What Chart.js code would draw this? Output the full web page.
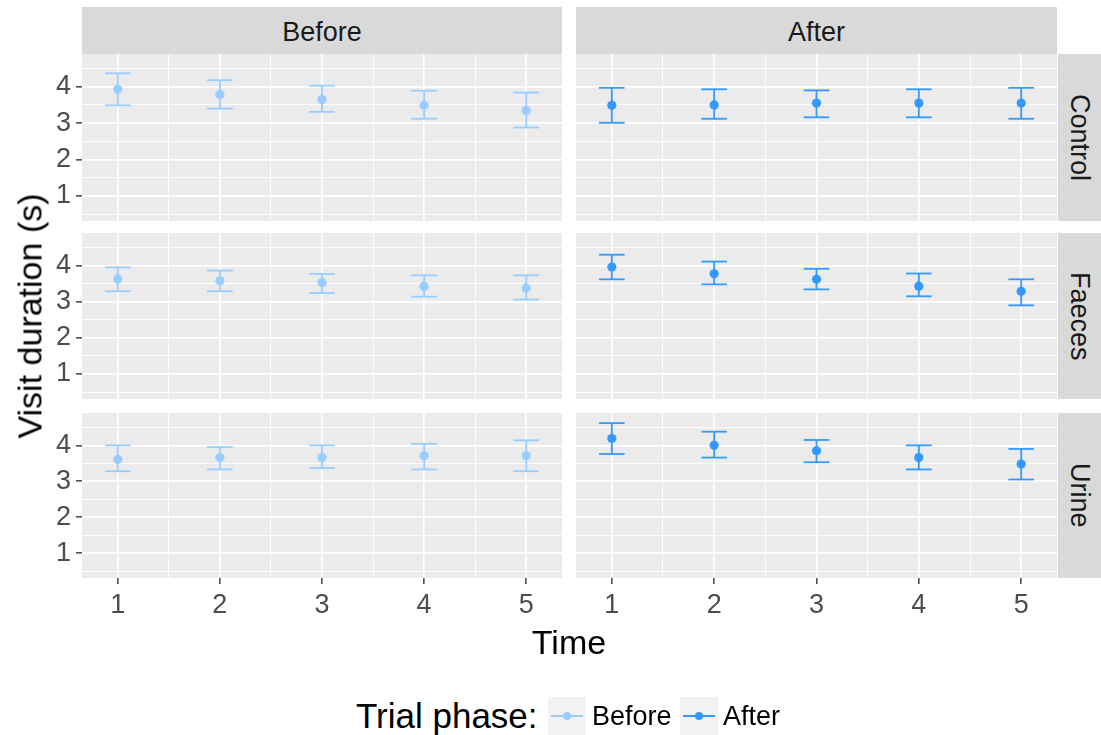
<!DOCTYPE html>
<html>
<head>
<meta charset="utf-8">
<title>Visit duration by time and trial phase</title>
<script src="https://cdn.jsdelivr.net/npm/chart.js@4.4.1/dist/chart.umd.min.js"></script>
<style>
  body { margin: 0; background: #fff; font-family: "Liberation Sans", Arial, sans-serif; }
  #plot { position: relative; width: 1101px; height: 735px; overflow: hidden; }
  #plot canvas { position: absolute; }
  .strip { position: absolute; background: #D9D9D9; color: #1A1A1A; font-size: 27px;
           display: flex; align-items: center; justify-content: center; box-sizing: border-box; }
  .strip.top { padding-top: 4px; }
  .strip.side span { writing-mode: vertical-rl; }
  .title { position: absolute; color: #000; font-size: 34px; white-space: nowrap;
           transform: translate(-50%, -50%); }
  .legend-item { position: absolute; white-space: nowrap; transform: translateY(-50%); }
  .key { position: absolute; width: 38px; height: 38px; background: #F2F2F2; }
  .key .ln { position: absolute; left: 3px; right: 3px; top: 18px; height: 1.6px; }
  .key .dot { position: absolute; left: 15px; top: 15px; width: 8px; height: 8px; border-radius: 50%; }
</style>
</head>
<body>
<div id="plot"></div>
<script>
// time points and facets
const TIMES = [1, 2, 3, 4, 5];
const PHASES = ['Before', 'After'];
const TREATMENTS = ['Control', 'Faeces', 'Urine'];

// [lower, mean, upper] per time point
const CONTROL_BEFORE = [[3.49, 3.93, 4.37], [3.40, 3.79, 4.18], [3.31, 3.65, 4.03], [3.12, 3.49, 3.89], [2.88, 3.35, 3.84]];
const CONTROL_AFTER  = [[3.01, 3.49, 3.97], [3.12, 3.50, 3.93], [3.16, 3.55, 3.90], [3.16, 3.55, 3.93], [3.12, 3.55, 3.97]];
const FAECES_BEFORE  = [[3.29, 3.63, 3.95], [3.29, 3.58, 3.86], [3.24, 3.53, 3.77], [3.14, 3.43, 3.73], [3.06, 3.38, 3.73]];
const FAECES_AFTER   = [[3.62, 3.96, 4.30], [3.48, 3.77, 4.11], [3.34, 3.62, 3.91], [3.15, 3.43, 3.78], [2.90, 3.29, 3.62]];
const URINE_BEFORE   = [[3.28, 3.61, 4.00], [3.33, 3.66, 3.95], [3.37, 3.66, 4.00], [3.33, 3.71, 4.04], [3.28, 3.71, 4.14]];
const URINE_AFTER    = [[3.76, 4.19, 4.62], [3.66, 4.00, 4.38], [3.53, 3.85, 4.15], [3.33, 3.66, 4.00], [3.05, 3.48, 3.90]];

const PANELS = [
    [CONTROL_BEFORE, CONTROL_AFTER],
    [FAECES_BEFORE, FAECES_AFTER],
    [URINE_BEFORE, URINE_AFTER]
];

// grid lines: integers are major, halves are minor
const X_GRID = [1, 1.5, 2, 2.5, 3, 3.5, 4, 4.5, 5];
const Y_GRID = [0.5, 1, 1.5, 2, 2.5, 3, 3.5, 4, 4.5];
const X_RANGE = [0.65, 5.35];
const Y_RANGE = [0.31, 4.9];

const COLORS = { Before: '#99CCFF', After: '#3399FF' };

// panel geometry
const COL_X = [[82, 562], [576, 1057]];
const ROW_Y = [[54, 221], [233, 399], [413, 578]];
const Y_AXIS_W = 82;
const X_AXIS_H = 46;
const STRIP_TOP = 7;

const plot = document.getElementById('plot');

const panelBg = {
    id: 'panelBg',
    beforeDraw(chart) {
        const { ctx, chartArea: a } = chart;
        ctx.save();
        ctx.fillStyle = '#EBEBEB';
        ctx.fillRect(a.left, a.top, a.right - a.left, a.bottom - a.top);
        ctx.restore();
    }
};

const isMajor = v => Number.isInteger(v);

function axisOpts(range, gridVals, show, isX) {
    return {
        type: 'linear',
        min: range[0],
        max: range[1],
        afterBuildTicks: axis => { axis.ticks = gridVals.map(v => ({ value: v })); },
        afterFit: s => {
            if (isX) { s.height = show ? X_AXIS_H : 0; s.paddingLeft = 0; s.paddingRight = 0; }
            else { s.width = show ? Y_AXIS_W : 0; s.paddingTop = 0; s.paddingBottom = 0; }
        },
        border: { display: false },
        grid: {
            color: '#FFFFFF',
            lineWidth: ctx => isMajor(ctx.tick.value) ? 1.7 : 0.9,
            drawTicks: show,
            tickLength: 6,
            tickWidth: 1.4,
            tickColor: ctx => isMajor(ctx.tick.value) ? '#333333' : 'rgba(0,0,0,0)'
        },
        ticks: {
            display: show,
            autoSkip: false,
            maxRotation: 0,
            padding: 5,
            color: '#4D4D4D',
            font: { family: '"Liberation Sans", Arial, sans-serif', size: 27 },
            callback: v => isMajor(v) ? String(v) : ''
        }
    };
}

function drawPanel(r, c) {
    const rows = PANELS[r][c];
    const color = COLORS[PHASES[c]];
    const showY = c === 0;
    const showX = r === ROW_Y.length - 1;

    const left = showY ? 0 : COL_X[c][0];
    const width = COL_X[c][1] - left;
    const top = ROW_Y[r][0];
    const height = ROW_Y[r][1] - top + (showX ? X_AXIS_H : 0);

    const canvas = document.createElement('canvas');
    canvas.width = width;
    canvas.height = height;
    canvas.style.left = left + 'px';
    canvas.style.top = top + 'px';
    canvas.style.width = width + 'px';
    canvas.style.height = height + 'px';
    plot.appendChild(canvas);

    const means = rows.map((d, i) => ({ x: TIMES[i], y: d[1] }));
    const caps = rows.flatMap((d, i) => [{ x: TIMES[i], y: d[0] }, { x: TIMES[i], y: d[2] }]);
    const stems = rows.flatMap((d, i) => [{ x: TIMES[i], y: d[0] }, { x: TIMES[i], y: d[2] }, { x: TIMES[i], y: null }]);

    new Chart(canvas, {
        type: 'scatter',
        data: {
            datasets: [
                { label: PHASES[c], data: means, pointRadius: 4.6, pointBackgroundColor: color, pointBorderWidth: 0 },
                { data: caps, pointStyle: 'line', pointRadius: 12.8, pointBorderColor: color, pointBorderWidth: 1.8 },
                { data: stems, showLine: true, spanGaps: false, borderColor: color, borderWidth: 1.8, pointRadius: 0 }
            ]
        },
        options: {
            responsive: false,
            animation: false,
            events: [],
            layout: { padding: 0, autoPadding: false },
            plugins: { legend: { display: false }, tooltip: { enabled: false } },
            scales: {
                x: axisOpts(X_RANGE, X_GRID, showX, true),
                y: axisOpts(Y_RANGE, Y_GRID, showY, false)
            }
        },
        plugins: [panelBg]
    });
}

for (let r = 0; r < ROW_Y.length; r++) {
    for (let c = 0; c < COL_X.length; c++) drawPanel(r, c);
}

function addDiv(cls, html, style) {
    const d = document.createElement('div');
    d.className = cls;
    d.innerHTML = html;
    Object.assign(d.style, style);
    plot.appendChild(d);
    return d;
}

// facet strips
PHASES.forEach((p, c) => {
    addDiv('strip top', p, {
        left: COL_X[c][0] + 'px', width: (COL_X[c][1] - COL_X[c][0]) + 'px',
        top: STRIP_TOP + 'px', height: (ROW_Y[0][0] - STRIP_TOP) + 'px'
    });
});
TREATMENTS.forEach((t, r) => {
    addDiv('strip side', '<span>' + t + '</span>', {
        left: '1058px', width: '43px',
        top: ROW_Y[r][0] + 'px', height: (ROW_Y[r][1] - ROW_Y[r][0]) + 'px'
    });
});

// axis titles
addDiv('title', 'Visit duration (s)', { left: '30px', top: '316px', transform: 'translate(-50%, -50%) rotate(-90deg)' });
addDiv('title', 'Time', { left: '569px', top: '642px' });

// legend
const LEGEND_Y = 716;
addDiv('legend-item', 'Trial phase:', { left: '356px', top: LEGEND_Y + 'px', fontSize: '35px' });
[[548, 592], [680, 723]].forEach(([kx, tx], i) => {
    const color = COLORS[PHASES[i]];
    addDiv('key', '<div class="ln" style="background:' + color + '"></div><div class="dot" style="background:' + color + '"></div>',
        { left: kx + 'px', top: (LEGEND_Y - 19) + 'px' });
    addDiv('legend-item', PHASES[i], { left: tx + 'px', top: LEGEND_Y + 'px', fontSize: '27px' });
});
</script>
</body>
</html>
